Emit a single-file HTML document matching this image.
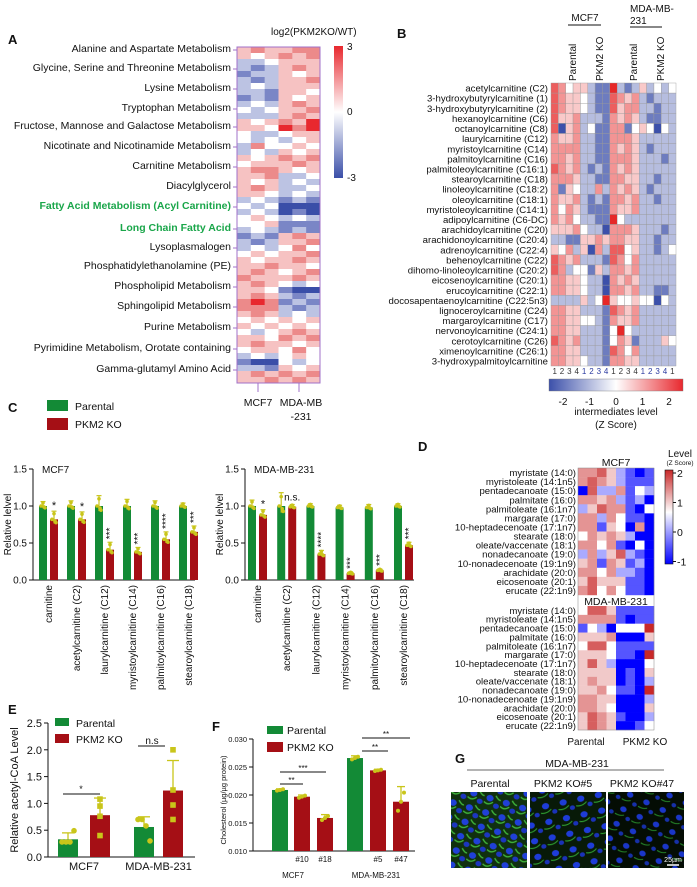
<!DOCTYPE html>
<html><head><meta charset="utf-8"><style>
body{margin:0;background:#fff;width:697px;height:887px;overflow:hidden}
svg{font-family:"Liberation Sans",Arial,sans-serif;display:block}
</style></head><body>
<svg id="fig" width="697" height="887" viewBox="0 0 697 887" xmlns="http://www.w3.org/2000/svg">
<defs>
<linearGradient id="gA" x1="0" y1="0" x2="0" y2="1"><stop offset="0" stop-color="#e8282e"/><stop offset="0.5" stop-color="#ffffff"/><stop offset="1" stop-color="#3a4ea8"/></linearGradient>
<linearGradient id="gB" x1="0" y1="0" x2="1" y2="0"><stop offset="0" stop-color="#3c50aa"/><stop offset="0.5" stop-color="#ffffff"/><stop offset="1" stop-color="#e8282e"/></linearGradient>
<linearGradient id="gD" x1="0" y1="0" x2="0" y2="1"><stop offset="0" stop-color="#c82828"/><stop offset="0.45" stop-color="#ffffff"/><stop offset="1" stop-color="#0000ff"/></linearGradient>
<pattern id="cells1" width="17" height="15" patternUnits="userSpaceOnUse" patternTransform="rotate(17)"><rect width="17" height="15" fill="#10300f"/><ellipse cx="5" cy="5" rx="3.6" ry="3.2" fill="#2040d8"/><ellipse cx="13" cy="11" rx="3" ry="2.6" fill="#1c36c0"/><path d="M0 10 Q5 13 9 8 M10 1 Q14 5 16 4" stroke="#3fb53a" stroke-width="1.4" fill="none"/></pattern>
<pattern id="cells2" width="18" height="16" patternUnits="userSpaceOnUse" patternTransform="rotate(-12)"><rect width="18" height="16" fill="#081a08"/><ellipse cx="6" cy="6" rx="3.6" ry="3.1" fill="#1e3cd8"/><ellipse cx="14" cy="13" rx="2.6" ry="2.3" fill="#1a32b8"/><path d="M0 12 Q6 14 11 10" stroke="#2e9e30" stroke-width="1.1" fill="none"/></pattern>
<pattern id="cells3" width="18" height="16" patternUnits="userSpaceOnUse" patternTransform="rotate(25)"><rect width="18" height="16" fill="#040d04"/><ellipse cx="7" cy="6" rx="3.3" ry="2.9" fill="#1a36c8"/><ellipse cx="15" cy="13" rx="2.4" ry="2.1" fill="#1630a8"/><path d="M1 13 Q6 14 10 11" stroke="#268a2a" stroke-width="1" fill="none"/></pattern>
</defs>
<g id="root"></g>
</svg>
<script>
// ---------- DATA ----------
const aPathways = ["Alanine and Aspartate Metabolism","Glycine, Serine and Threonine Metabolism","Lysine Metabolism","Tryptophan Metabolism","Fructose, Mannose and Galactose Metabolism","Nicotinate and Nicotinamide Metabolism","Carnitine Metabolism","Diacylglycerol","Fatty Acid Metabolism (Acyl Carnitine)","Long Chain Fatty Acid","Lysoplasmalogen","Phosphatidylethanolamine (PE)","Phospholipid Metabolism","Sphingolipid Metabolism","Purine Metabolism","Pyrimidine Metabolism, Orotate containing","Gamma-glutamyl Amino Acid"];
const aLabelY = [48,67,87,107,125,145,165,185,205,227,246,265,285,305,326,347,368];
const aRows = ["454455","434545","223444","212454","122434","212445","232444","221443","121434","232454","323445","222454","434546","443656","322344","323234","253343","232434","434545","344454","455434","445223","434232","454223","443232","232121","323000","232010","343232","334111","232121","121454","212445","232353","343445","434454","445443","454345","544454","454323","443100","454212","565121","555212","454232","343434","434343","323454","443545","454434","344353","232343","100323","221434","454545","445454"];

const bMetabolites = ["acetylcarnitine (C2)","3-hydroxybutyrylcarnitine (1)","3-hydroxybutyrylcarnitine (2)","hexanoylcarnitine (C6)","octanoylcarnitine (C8)","laurylcarnitine (C12)","myristoylcarnitine (C14)","palmitoylcarnitine (C16)","palmitoleoylcarnitine (C16:1)","stearoylcarnitine (C18)","linoleoylcarnitine (C18:2)","oleoylcarnitine (C18:1)","myristoleoylcarnitine (C14:1)","adipoylcarnitine (C6-DC)","arachidoylcarnitine (C20)","arachidonoylcarnitine (C20:4)","adrenoylcarnitine (C22:4)","behenoylcarnitine (C22)","dihomo-linoleoylcarnitine (C20:2)","eicosenoylcarnitine (C20:1)","erucoylcarnitine (C22:1)","docosapentaenoylcarnitine (C22:5n3)","lignoceroylcarnitine (C24)","margaroylcarnitine (C17)","nervonoylcarnitine (C24:1)","cerotoylcarnitine (C26)","ximenoylcarnitine (C26:1)","3-hydroxypalmitoylcarnitine"];
const bRows = ["76455322832353434","76554322765632333","76554322756633233","75563332656532233","71563422662454143","65563322666533333","66663322656532333","66563322666533323","76563232656533333","66653322665533233","62543363656532333","65563232665633233","64653222655633333","65643322843333333","55564331666533323","33225565665533233","54635163774533234","76563332764633333","76344253665633333","66554331656533333","66554331665633223","33335348544544143","66553332765633333","66554432655633333","66553332484333333","76563332465233354","66553332764633333","66554332665533333"];
const bColNums = ["1","2","3","4","1","2","3","4","1","2","3","4","1","2","3","4","1"];

const cCats = ["carnitine","acetylcarnitine (C2)","laurylcarnitine (C12)","myristoylcarnitine (C14)","palmitoylcarnitine (C16)","stearoylcarnitine (C18)"];
const cMcfPar = [1,1,1,1,1,1];
const cMcfParErr = [0.06,0.07,0.14,0.09,0.07,0.04];
const cMcfKO = [0.82,0.82,0.41,0.38,0.55,0.65];
const cMcfKOErr = [0.11,0.1,0.1,0.06,0.1,0.08];
const cMcfSig = ["*","*","***","***","****","***"];
const cMdaPar = [1,1,1,0.98,0.98,1];
const cMdaParErr = [0.08,0.18,0.03,0.03,0.04,0.03];
const cMdaKO = [0.88,0.99,0.35,0.09,0.13,0.47];
const cMdaKOErr = [0.07,0.03,0.05,0.02,0.02,0.04];
const cMdaSig = ["*","n.s.","****","***","***","***"];
const cTicks = ["0.0","0.5","1.0","1.5"];

const dMcfLabels = ["myristate (14:0)","myristoleate (14:1n5)","pentadecanoate (15:0)","palmitate (16:0)","palmitoleate (16:1n7)","margarate (17:0)","10-heptadecenoate (17:1n7)","stearate (18:0)","oleate/vaccenate (18:1)","nonadecanoate (19:0)","10-nonadecenoate (19:1n9)","arachidate (20:0)","eicosenoate (20:1)","erucate (22:1n9)"];
const dMcfRows = ["66753202","67653222","17336243","66563231","35766214","66364221","66254161","46565301","66462141","36357321","56265231","66463320","57555221","67464221"];
const dMdaRows = ["47752222","66662122","24304448","55561105","47742222","55542208","57531114","55551205","56551213","55642208","66551113","66541115","57652113","57651124"];
const dTicks = ["2","1","0","-1"];

const eGroups = ["MCF7","MDA-MB-231"];
const ePar = [0.33,0.56];
const eParErr = [0.12,0.19];
const eKO = [0.78,1.24];
const eKOErr = [0.32,0.56];
const eParPts = [[0.28,0.28,0.28,0.49],[0.7,0.7,0.58,0.3]];
const eKOPts = [[1.08,0.95,0.76,0.4],[2.0,1.25,0.97,0.7]];
const eTicks = ["0.0","0.5","1.0","1.5","2.0","2.5"];

const fLabels = ["","#10","#18","","#5","#47"];
const fValues = [0.0209,0.0197,0.0159,0.0266,0.0244,0.0188];
const fErr = [0.0002,0.0003,0.0006,0.0004,0.0002,0.0027];
const fTicks = ["0.010","0.015","0.020","0.025","0.030"];

// ---------- HELPERS ----------
const NS="http://www.w3.org/2000/svg";
const root=document.getElementById('root');
function mk(tag,attrs,parent){const e=document.createElementNS(NS,tag);for(const k in attrs)e.setAttribute(k,attrs[k]);(parent||root).appendChild(e);return e;}
function txt(s,x,y,size,anchor,extra,parent){const e=mk('text',Object.assign({x:x,y:y,'font-size':size,'text-anchor':anchor||'start',fill:'#111'},extra||{}),parent);e.textContent=s;return e;}
const aCol=["#3a4ea8","#7a86c6","#bcc3e3","#ffffff","#f6c2c2","#ec8a8a","#e8282e"];
function bColor(d){const v=(d-4)/4;if(v<0){const t=Math.min(1,-v*1.5);return `rgb(${Math.round(255-t*195)},${Math.round(255-t*175)},${Math.round(255-t*85)})`;}return `rgb(${Math.round(255-v*25)},${Math.round(255-v*215)},${Math.round(255-v*215)})`;}
function dColor(d){const v=(d-4)/4;if(v<0){const t=Math.min(1,-v/0.75);return `rgb(${Math.round(255-t*255)},${Math.round(255-t*255)},255)`;}return `rgb(${Math.round(255-v*55)},${Math.round(255-v*215)},${Math.round(255-v*215)})`;}
const GREEN="#138a36",RED="#a50f15",YEL="#c9c51a";

// ---------- PANEL A ----------
let e;
e=txt("A",8,44,13,'start',{'font-weight':'bold'});


const aX0=237,aW=83,aY0=47,aRH=(383-47)/aRows.length;
const aCW=aW/6;
aRows.forEach((r,i)=>{for(let j=0;j<6;j++){const c=mk('rect',{x:aX0+j*aCW,y:aY0+i*aRH,width:aCW+0.3,height:aRH+0.3,fill:aCol[+r[j]]});

}});
e=mk('rect',{x:aX0,y:aY0,width:aW,height:383-aY0,fill:'none',stroke:'#a070c8','stroke-width':1});


aPathways.forEach((p,i)=>{const green=(i===8||i===9);const t=txt(p,231,aLabelY[i]+4,10.5,'end',green?{fill:'#1aa64a','font-weight':'bold'}:{});


mk('line',{x1:233,x2:237,y1:aLabelY[i]+2,y2:aLabelY[i]+2,stroke:'#a070c8'});});
[258,299].forEach(x=>mk('line',{x1:x,x2:x,y1:383,y2:392,stroke:'#a070c8'}));
e=txt("MCF7",258,406,10.5,'middle');


e=txt("MDA-MB",301,406,10.5,'middle');


txt("-231",301,420,10.5,'middle');
e=txt("log2(PKM2KO/WT)",271,35,10,'start');


e=mk('rect',{x:334,y:46,width:9,height:132,fill:'url(#gA)'});


txt("3",347,50,10);txt("0",347,115,10);txt("-3",347,181,10);

// ---------- PANEL B ----------
e=txt("B",397,38,13,'start',{'font-weight':'bold'});


const bX0=551,bCW=125/17,bY0=83,bRH=(366-83)/bRows.length;
bRows.forEach((r,i)=>{for(let j=0;j<17;j++){const c=mk('rect',{x:bX0+j*bCW,y:bY0+i*bRH,width:bCW,height:bRH,fill:bColor(+r[j]),stroke:'#9a9a9a','stroke-width':0.4});

}});
bMetabolites.forEach((m,i)=>{const t=txt(m,548,bY0+i*bRH+bRH-1.5,9.6,'end');

});
bColNums.forEach((n,j)=>{const t=txt(n,bX0+j*bCW+bCW/2,374,8,'middle',{fill:(j>=4&&j<8)||(j>=12&&j<16)?'#2a3aa0':'#333'});

});
txt("MCF7",585,21,10,'middle');mk('line',{x1:568,x2:601,y1:25,y2:25,stroke:'#111'});
txt("MDA-MB-",630,12,10,'start');txt("231",630,24,10,'start');mk('line',{x1:630,x2:662,y1:27,y2:27,stroke:'#111'});
[["Parental",576],["PKM2 KO",603],["Parental",637],["PKM2 KO",664]].forEach(([s,x])=>{const t=txt(s,0,0,10,'start',{transform:`translate(${x},81) rotate(-90)`});

});
e=mk('rect',{x:549,y:379,width:134,height:12,fill:'url(#gB)',stroke:'#777','stroke-width':0.4});


["-2","-1","0","1","2"].forEach((s,i)=>txt(s,563+i*26.5,405,10,'middle'));
txt("intermediates level",616,415,10,'middle');txt("(Z Score)",616,428,10,'middle');

// ---------- PANEL C ----------
e=txt("C",8,412,13,'start',{'font-weight':'bold'});


e=mk('rect',{x:47,y:400,width:21,height:11,fill:GREEN});


txt("Parental",75,410,10.5);
e=mk('rect',{x:47,y:418,width:21,height:12,fill:RED});


txt("PKM2 KO",75,428,10.5);
function cY(v){return 580-v*74;}
function drawC(ax,gx0,gstep,axEnd,title,par,parErr,ko,koErr,sig){
  mk('line',{x1:ax,x2:ax,y1:cY(1.5),y2:580,stroke:'#111'});
  mk('line',{x1:ax,x2:axEnd,y1:580,y2:580,stroke:'#111'});
  cTicks.forEach((t,i)=>{const v=i*0.5;mk('line',{x1:ax-4,x2:ax,y1:cY(v),y2:cY(v),stroke:'#111'});txt(t,ax-6,cY(v)+3.5,10,'end');});
  txt("Relative lelvel",0,0,10,'middle',{transform:`translate(${ax-22},${cY(0.75)}) rotate(-90)`});
  txt(title,ax+9,cY(1.5)+4,10);
  cCats.forEach((c,i)=>{const gx=gx0+i*gstep,rx=gx+11;
    const g=mk('rect',{x:gx-4,y:cY(par[i]),width:8,height:580-cY(par[i]),fill:GREEN});
    
    
    const r=mk('rect',{x:rx-4,y:cY(ko[i]),width:8,height:580-cY(ko[i]),fill:RED});
    
    
    [[gx,par[i],parErr[i]],[rx,ko[i],koErr[i]]].forEach(([x,v,er])=>{
      mk('line',{x1:x,x2:x,y1:cY(v-er*0.5),y2:cY(v+er),stroke:YEL,'stroke-width':1.2});
      mk('line',{x1:x-2.5,x2:x+2.5,y1:cY(v+er),y2:cY(v+er),stroke:YEL,'stroke-width':1.2});
      [[-2,v],[2,v-er*0.4],[0,v+er*0.7],[1,v-er*0.2]].forEach(([dx,pv])=>mk('circle',{cx:x+dx,cy:cY(pv),r:1.8,fill:YEL}));
    });
    const top=cY(ko[i]+koErr[i])-3;
    let s;
    if(sig[i].length<=1){s=txt(sig[i],rx,top+1,11,'middle');}
    else if(sig[i]==="n.s."){s=txt(sig[i],rx,top-1,10,'middle');}
    else{s=txt(sig[i],0,0,10,'start',{transform:`translate(${rx+3},${top}) rotate(-90)`});}
    
    
    const l=txt(c,0,0,10,'end',{transform:`translate(${gx+9},585) rotate(-90)`});
    
    
  });
}
drawC(33,43,28,195,"MCF7",cMcfPar,cMcfParErr,cMcfKO,cMcfKOErr,cMcfSig);
drawC(245,252,29.2,414,"MDA-MB-231",cMdaPar,cMdaParErr,cMdaKO,cMdaKOErr,cMdaSig);

// ---------- PANEL D ----------
e=txt("D",418,451,13,'start',{'font-weight':'bold'});


const dX0=578,dCW=76/8;
function drawD(rows,y0,rh){rows.forEach((r,i)=>{for(let j=0;j<8;j++){const c=mk('rect',{x:dX0+j*dCW,y:y0+i*rh,width:dCW+0.2,height:rh+0.2,fill:dColor(+r[j])});

}
const t=txt(dMcfLabels[i],576,y0+i*rh+rh-1,9.6,'end');

});}
drawD(dMcfRows,468,127/14);
drawD(dMdaRows,606,124/14);
mk('rect',{x:dX0,y:468,width:76,height:262,fill:'none',stroke:'#888','stroke-width':0.5});
txt("MCF7",616,466,10.5,'middle');
e=mk('rect',{x:580,y:596,width:73,height:10,fill:'#fff'});
txt("MDA-MB-231",616,605,10.5,'middle');
e=txt("Parental",586,745,10,'middle');


e=txt("PKM2 KO",645,745,10,'middle');


txt("Level",680,457,10,'middle');txt("(Z Score)",680,465,6.5,'middle');
e=mk('rect',{x:665,y:470,width:8,height:94,fill:'url(#gD)',stroke:'#111','stroke-width':0.6});


dTicks.forEach((t,i)=>{const y=473+i*29.5;mk('line',{x1:673,x2:676,y1:y,y2:y,stroke:'#111'});txt(t,677,y+4,10.5);});

// ---------- PANEL E ----------
e=txt("E",8,714,13,'start',{'font-weight':'bold'});


function eY(v){return 857-v*53.6;}
mk('line',{x1:48,x2:48,y1:eY(2.5),y2:857,stroke:'#111'});
mk('line',{x1:48,x2:195,y1:857,y2:857,stroke:'#111'});
eTicks.forEach((t,i)=>{const v=i*0.5;mk('line',{x1:44,x2:48,y1:eY(v),y2:eY(v),stroke:'#111'});txt(t,42,eY(v)+4,11,'end');});
txt("Relative acetyl-CoA Level",0,0,11,'middle',{transform:`translate(18,${eY(1.25)}) rotate(-90)`});
const eGX=[68,144],eRX=[100,173];
eGroups.forEach((g,i)=>{
  const a=mk('rect',{x:eGX[i]-10,y:eY(ePar[i]),width:20,height:857-eY(ePar[i]),fill:GREEN});
  
  
  const b=mk('rect',{x:eRX[i]-10,y:eY(eKO[i]),width:20,height:857-eY(eKO[i]),fill:RED});
  
  
  [[eGX[i],ePar[i]+eParErr[i],ePar[i]],[eRX[i],eKO[i]+eKOErr[i],eKO[i]]].forEach(([x,t,v])=>{mk('line',{x1:x,x2:x,y1:eY(v),y2:eY(t),stroke:YEL,'stroke-width':1.3});mk('line',{x1:x-6,x2:x+6,y1:eY(t),y2:eY(t),stroke:YEL,'stroke-width':1.3});});
  eParPts[i].forEach((p,k)=>mk('circle',{cx:eGX[i]-6+k*4,cy:eY(p),r:2.8,fill:YEL}));
  eKOPts[i].forEach((p)=>mk('rect',{x:eRX[i]-2.8,y:eY(p)-2.8,width:5.6,height:5.6,fill:YEL}));
  const l=txt(g,(eGX[i]+eRX[i])/2,870,11,'middle');
  
  
});
mk('line',{x1:63,x2:100,y1:794,y2:794,stroke:'#111'});txt("*",81,792,9,'middle');
mk('line',{x1:138,x2:165,y1:746,y2:746,stroke:'#111'});txt("n.s",152,744,10,'middle');
mk('rect',{x:55,y:718,width:14,height:8,fill:GREEN});txt("Parental",76,727,10.5);
mk('rect',{x:55,y:734,width:14,height:9,fill:RED});txt("PKM2 KO",76,743,10.5);

// ---------- PANEL F ----------
e=txt("F",212,731,13,'start',{'font-weight':'bold'});


function fY(v){return 851-(v-0.01)*5600;}
mk('line',{x1:253,x2:253,y1:fY(0.03),y2:851,stroke:'#111'});
mk('line',{x1:253,x2:415,y1:851,y2:851,stroke:'#111'});
fTicks.forEach((t,i)=>{const v=0.01+i*0.005;mk('line',{x1:249,x2:253,y1:fY(v),y2:fY(v),stroke:'#111'});txt(t,247,fY(v)+3,7.5,'end');});
txt("Cholesterol (µg/µg protein)",0,0,7.5,'middle',{transform:`translate(226,800) rotate(-90)`});
const fX=[280,302,325,355,378,401];
fValues.forEach((v,i)=>{const col=(i===0||i===3)?GREEN:RED;
  const b=mk('rect',{x:fX[i]-8,y:fY(v),width:16,height:851-fY(v),fill:col});
  
  
  mk('line',{x1:fX[i],x2:fX[i],y1:fY(v),y2:fY(v+fErr[i]),stroke:YEL,'stroke-width':1.3});
  mk('line',{x1:fX[i]-4,x2:fX[i]+4,y1:fY(v+fErr[i]),y2:fY(v+fErr[i]),stroke:YEL,'stroke-width':1.3});
  [-3,0,3].forEach((dx,k)=>mk('circle',{cx:fX[i]+dx,cy:fY(v+(k-1)*fErr[i]*0.6),r:2,fill:YEL}));
  if(fLabels[i]){const l=txt(fLabels[i],fX[i],862,8,'middle');
  
  }
});
txt("MCF7",293,878,8,'middle');txt("MDA-MB-231",376,878,8,'middle');
[[280,303,784,"**"],[280,326,772,"***"],[362,388,751,"**"],[362,410,738,"**"]].forEach(([a,b,y,s])=>{mk('line',{x1:a,x2:b,y1:y,y2:y,stroke:'#111'});txt(s,(a+b)/2,y-1,8,'middle');});
mk('rect',{x:267,y:726,width:16,height:8,fill:GREEN});txt("Parental",287,734,10.5);
mk('rect',{x:267,y:742,width:16,height:10,fill:RED});txt("PKM2 KO",287,751,10.5);

// ---------- PANEL G ----------
e=txt("G",455,763,13,'start',{'font-weight':'bold'});


txt("MDA-MB-231",577,767,10.5,'middle');
mk('line',{x1:467,x2:664,y1:770,y2:770,stroke:'#888','stroke-width':1.2});
[["Parental",490,451,"cells1"],["PKM2 KO#5",563,530,"cells2"],["PKM2 KO#47",642,608,"cells3"]].forEach(([s,cx,x,p])=>{
  const l=txt(s,cx,787,10.5,'middle');
  
  
  const im=mk('rect',{x:x,y:792,width:76,height:76,fill:`url(#${p})`});
  
  
});
txt("25µm",673,862,7,'middle',{fill:'#fff'});
mk('line',{x1:667,x2:679,y1:865,y2:865,stroke:'#fff','stroke-width':1.5});
</script>
</body></html>
